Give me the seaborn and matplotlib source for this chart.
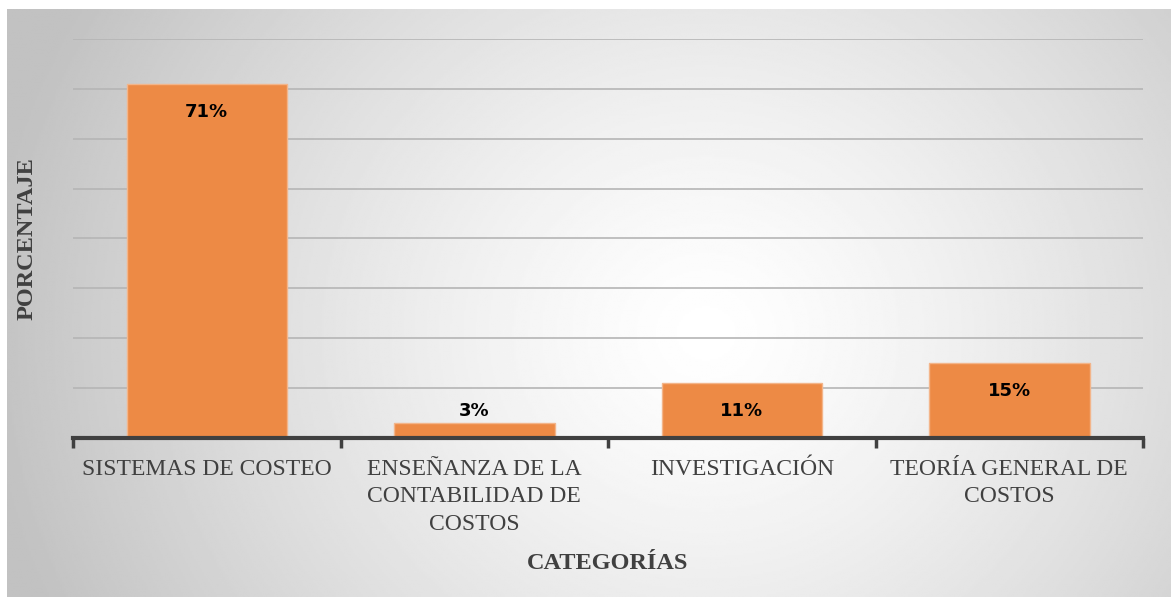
import numpy as np
import pandas as pd
import matplotlib
matplotlib.use("Agg")
import matplotlib.pyplot as plt
import seaborn as sns

# datos del gráfico
categorias = ["SISTEMAS DE COSTEO",
              "ENSEÑANZA DE LA\nCONTABILIDAD DE\nCOSTOS",
              "INVESTIGACIÓN",
              "TEORÍA GENERAL DE\nCOSTOS"]
porcentajes = [71, 3, 11, 15]
etiquetas = ["71%", "3%", "11%", "15%"]

df = pd.DataFrame({"categoria": categorias, "porcentaje": porcentajes})

sns.set_theme(style="white")
serif = ["Liberation Serif", "DejaVu Serif"]

fig = plt.figure(figsize=(11.71, 6.0), dpi=100)
fig.patch.set_facecolor("white")

# fondo con degradado radial
bg = fig.add_axes([7 / 1171, 3 / 600, 1164 / 1171, 588 / 600], zorder=0)
yy, xx = np.mgrid[0:300, 0:600]
cx, cy = 0.6 * 600, 0.55 * 300
r = np.sqrt(((xx - cx) / 600) ** 2 + ((yy - cy) / 300 * 0.55) ** 2)
r = np.clip(r / 0.62, 0, 1)
img = 1.0 - 0.24 * r ** 1.3
bg.imshow(img, cmap="gray", vmin=0, vmax=1, aspect="auto", interpolation="bilinear")
bg.set_axis_off()

ax = fig.add_axes([73 / 1171, 1 - 438 / 600, 1070 / 1171, 399 / 600], zorder=1)
ax.set_facecolor("none")

sns.barplot(data=df, x="categoria", y="porcentaje", color="#ED8A45",
            width=0.6, saturation=1, edgecolor="#F3B58A", linewidth=1, ax=ax, zorder=3)

ax.set_ylim(0, 80)
ax.set_xlim(-0.5, 3.5)
ax.set_yticks(np.arange(0, 81, 10))
ax.set_yticklabels([])
ax.tick_params(axis="y", length=0)
ax.grid(axis="y", color="#b5b5b5", linewidth=1.2, zorder=0)
ax.set_axisbelow(True)

for s in ["top", "right", "left"]:
    ax.spines[s].set_visible(False)
ax.spines["bottom"].set_color("#404040")
ax.spines["bottom"].set_linewidth(3)
ax.spines["bottom"].set_zorder(4)

ax.set_xticks(range(len(categorias)))
ax.set_xticklabels(categorias, family=serif, fontsize=17, color="#404040",
                   linespacing=1.4)
ax.set_xticks(np.arange(-0.5, len(categorias), 1), minor=True)
ax.tick_params(axis="x", which="major", length=0, pad=15)
ax.tick_params(axis="x", which="minor", length=7, width=2.5, color="#404040",
               direction="out", bottom=True)

for i, (v, t) in enumerate(zip(porcentajes, etiquetas)):
    if v > 8:
        ax.annotate(t, (i, v), xytext=(0, -20), textcoords="offset points",
                    ha="center", va="center", fontsize=13, fontweight="bold",
                    color="black", zorder=5)
    else:
        ax.annotate(t, (i, v), xytext=(0, 9), textcoords="offset points",
                    ha="center", va="center", fontsize=13, fontweight="bold",
                    color="black", zorder=5)

ax.set_xlabel("CATEGORÍAS", family=serif, fontsize=17.5, fontweight="bold",
              color="#404040", labelpad=13)
ax.set_ylabel("PORCENTAJE", family=serif, fontsize=17.5, fontweight="bold",
              color="#404040", labelpad=22)

fig.savefig("out.png", dpi=100)
